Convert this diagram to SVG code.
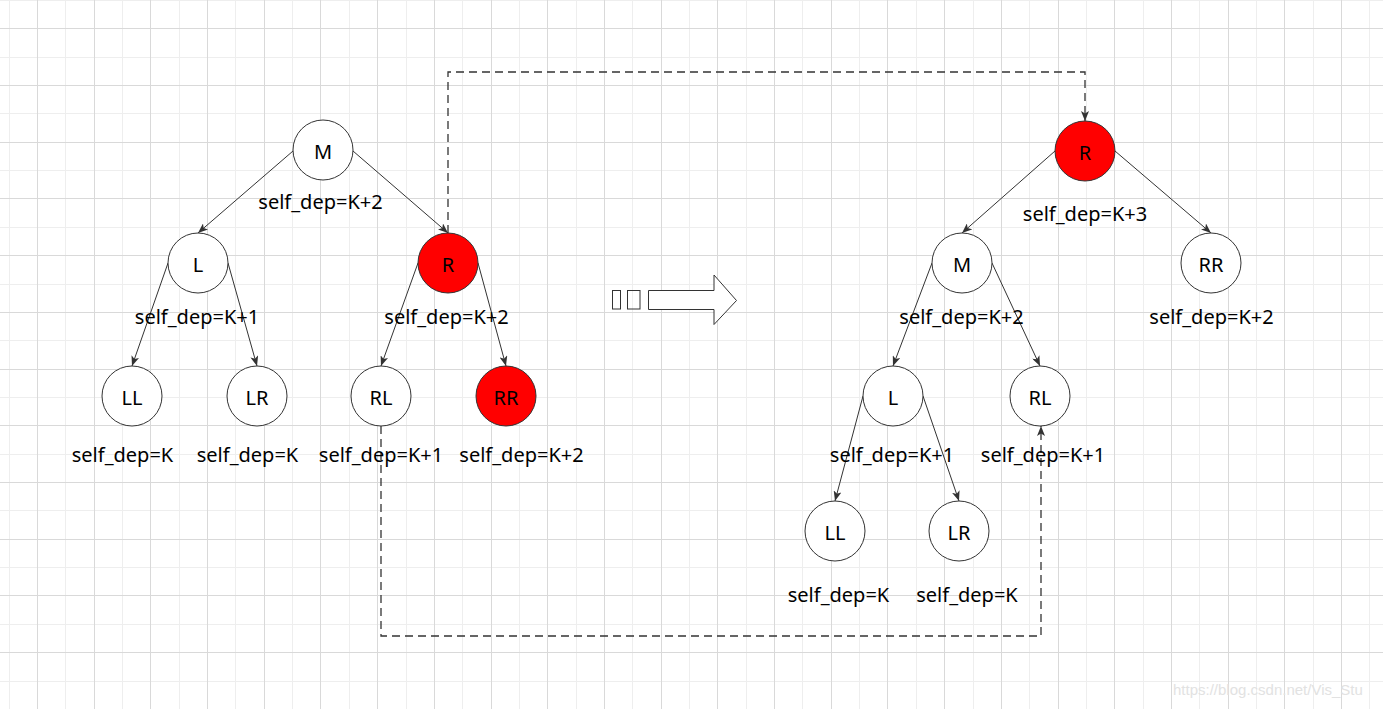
<svg xmlns="http://www.w3.org/2000/svg" width="1383" height="709" viewBox="0 0 1383 709">
<style>
.gd{stroke:#d9d9d9;stroke-width:1;fill:none}
.gl{stroke:#eeeeee;stroke-width:1;fill:none}
.nd{fill:#ffffff;stroke:#333333;stroke-width:1}
.red{fill:#ff0000;stroke:#333333;stroke-width:1}
.nt{font-family:"Noto Sans","Liberation Sans",sans-serif;font-size:20px;fill:#000;text-anchor:middle}
.lb{font-family:"Noto Sans","Liberation Sans",sans-serif;font-size:20px;fill:#000;text-anchor:middle}
.edge{stroke:#333333;stroke-width:1;fill:none;marker-end:url(#arr)}
.dash{stroke:#333333;stroke-width:1.3;fill:none;stroke-dasharray:8 5;marker-end:url(#arr)}
.wm{font-family:"Liberation Sans",Arial,sans-serif;font-size:15px;fill:#e2e2e2}
</style>
<defs>
<marker id="arr" viewBox="0 0 10 8" refX="10" refY="4" markerWidth="10" markerHeight="8" markerUnits="userSpaceOnUse" orient="auto">
<path d="M0,0 L10,4 L0,8 L2.5,4 Z" fill="#333333"/>
</marker>
</defs>
<rect width="1383" height="709" fill="#ffffff"/>
<g id="grid">
<path class="gl" d="M9.5 0V709M65.5 0V709M122.5 0V709M179.5 0V709M235.5 0V709M292.5 0V709M349.5 0V709M406.5 0V709M462.5 0V709M519.5 0V709M576.5 0V709M632.5 0V709M689.5 0V709M746.5 0V709M802.5 0V709M859.5 0V709M916.5 0V709M973.5 0V709M1029.5 0V709M1086.5 0V709M1143.5 0V709M1199.5 0V709M1256.5 0V709M1313.5 0V709M1369.5 0V709"/>
<path class="gl" d="M0 0.5H1383M0 57.5H1383M0 113.5H1383M0 170.5H1383M0 227.5H1383M0 284.5H1383M0 340.5H1383M0 397.5H1383M0 454.5H1383M0 510.5H1383M0 567.5H1383M0 624.5H1383M0 681.5H1383"/>
<path class="gd" d="M37.5 0V709M94.5 0V709M150.5 0V709M207.5 0V709M264.5 0V709M320.5 0V709M377.5 0V709M434.5 0V709M491.5 0V709M547.5 0V709M604.5 0V709M661.5 0V709M717.5 0V709M774.5 0V709M831.5 0V709M887.5 0V709M944.5 0V709M1001.5 0V709M1058.5 0V709M1114.5 0V709M1171.5 0V709M1228.5 0V709M1284.5 0V709M1341.5 0V709"/>
<path class="gd" d="M0 28.5H1383M0 85.5H1383M0 142.5H1383M0 198.5H1383M0 255.5H1383M0 312.5H1383M0 369.5H1383M0 425.5H1383M0 482.5H1383M0 539.5H1383M0 595.5H1383M0 652.5H1383"/>
</g>
<g id="connectors">
<line class="edge" x1="293" y1="151" x2="198" y2="233"/>
<line class="edge" x1="353" y1="151" x2="448" y2="233"/>
<line class="edge" x1="168" y1="263" x2="132" y2="366"/>
<line class="edge" x1="228" y1="263" x2="257" y2="366"/>
<line class="edge" x1="418" y1="263" x2="381" y2="366"/>
<line class="edge" x1="478" y1="263" x2="506" y2="366"/>
<line class="edge" x1="1055" y1="151" x2="962" y2="233"/>
<line class="edge" x1="1115" y1="151" x2="1211" y2="233"/>
<line class="edge" x1="932" y1="263" x2="893" y2="366"/>
<line class="edge" x1="992" y1="263" x2="1040" y2="366"/>
<line class="edge" x1="863" y1="396" x2="835" y2="501"/>
<line class="edge" x1="923" y1="396" x2="959" y2="501"/>
<path class="dash" d="M448 233V72H1085V121"/>
<path class="dash" d="M381 426V636H1041V426"/>
</g>
<g id="arrow-mid">
<rect x="612.5" y="290.5" width="8" height="18.5" fill="none" stroke="#333" stroke-width="1"/>
<rect x="627.5" y="290.5" width="12.5" height="18.5" fill="none" stroke="#333" stroke-width="1"/>
<path d="M648.5 290.5H714V275L736.5 300.5L714 324.5V309.5H648.5Z" fill="#fff" stroke="#333" stroke-width="1"/>
</g>
<g id="L-M"><circle class="nd" cx="323" cy="150" r="30"/><text class="nt" x="323" y="159">M</text><text class="lb" x="320.5" y="209">self_dep=K+2</text></g>
<g id="L-L"><circle class="nd" cx="198" cy="263" r="30"/><text class="nt" x="198" y="272">L</text><text class="lb" x="197" y="323.5">self_dep=K+1</text></g>
<g id="L-R"><circle class="red" cx="448" cy="263" r="30"/><text class="nt" x="448" y="272">R</text><text class="lb" x="446.5" y="323.5">self_dep=K+2</text></g>
<g id="L-LL"><circle class="nd" cx="132" cy="396" r="30"/><text class="nt" x="132" y="405">LL</text><text class="lb" x="122.5" y="462">self_dep=K</text></g>
<g id="L-LR"><circle class="nd" cx="257" cy="396" r="30"/><text class="nt" x="257" y="405">LR</text><text class="lb" x="247.5" y="462">self_dep=K</text></g>
<g id="L-RL"><circle class="nd" cx="381" cy="396" r="30"/><text class="nt" x="381" y="405">RL</text><text class="lb" x="381" y="462">self_dep=K+1</text></g>
<g id="L-RR"><circle class="red" cx="506" cy="396" r="30"/><text class="nt" x="506" y="405">RR</text><text class="lb" x="521.5" y="462">self_dep=K+2</text></g>
<g id="R-R"><circle class="red" cx="1085" cy="151" r="30"/><text class="nt" x="1085" y="160">R</text><text class="lb" x="1085" y="221">self_dep=K+3</text></g>
<g id="R-M"><circle class="nd" cx="962" cy="263" r="30"/><text class="nt" x="962" y="272">M</text><text class="lb" x="961.5" y="323.5">self_dep=K+2</text></g>
<g id="R-RR"><circle class="nd" cx="1211" cy="263" r="30"/><text class="nt" x="1211" y="272">RR</text><text class="lb" x="1211.5" y="323.5">self_dep=K+2</text></g>
<g id="R-L"><circle class="nd" cx="893" cy="396" r="30"/><text class="nt" x="893" y="405">L</text><text class="lb" x="892" y="462">self_dep=K+1</text></g>
<g id="R-RL"><circle class="nd" cx="1040" cy="396" r="30"/><text class="nt" x="1040" y="405">RL</text><text class="lb" x="1043" y="462">self_dep=K+1</text></g>
<g id="R-LL"><circle class="nd" cx="835" cy="531" r="30"/><text class="nt" x="835" y="540">LL</text><text class="lb" x="838.5" y="601.5">self_dep=K</text></g>
<g id="R-LR"><circle class="nd" cx="959" cy="531" r="30"/><text class="nt" x="959" y="540">LR</text><text class="lb" x="967" y="601.5">self_dep=K</text></g>
<text class="wm" x="1173" y="695">https://blog.csdn.net/Vis_Stu</text>
</svg>
